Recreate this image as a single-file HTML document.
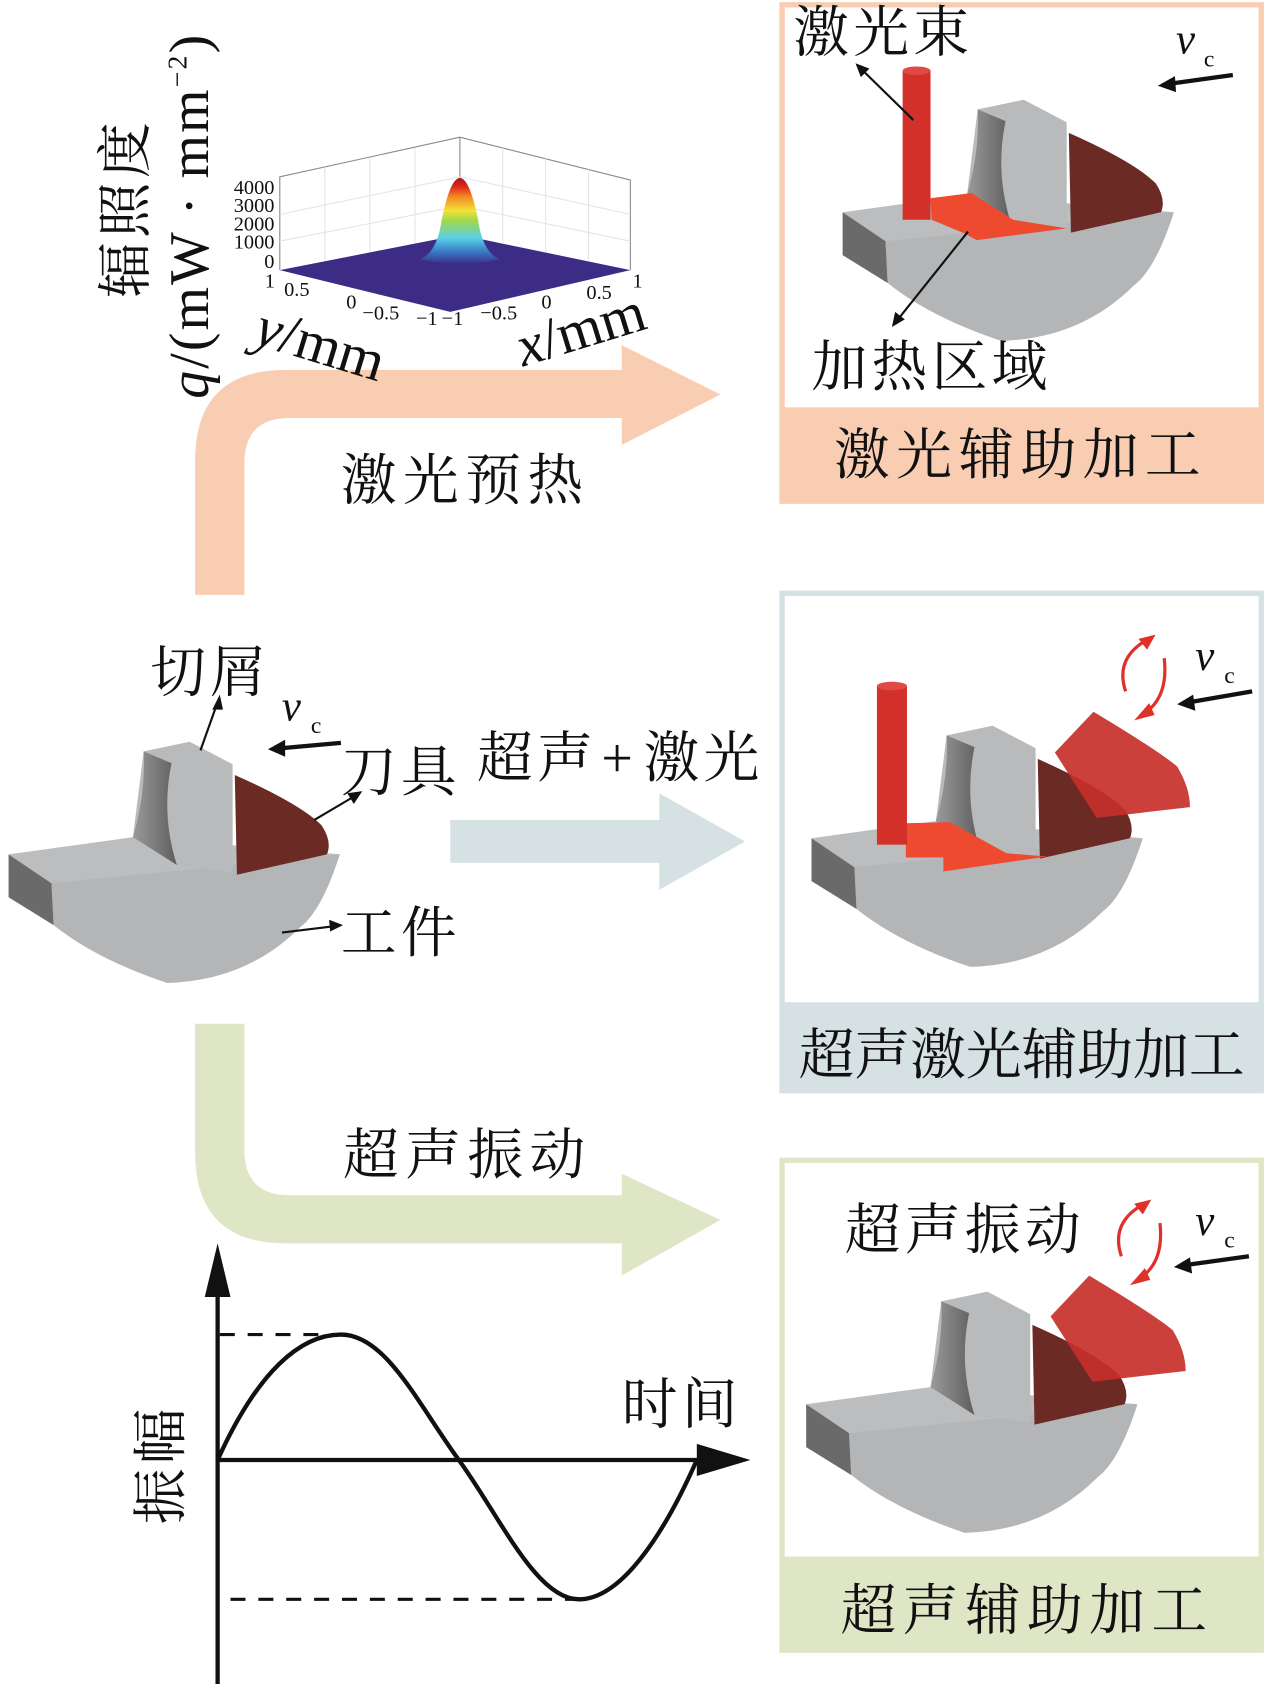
<!DOCTYPE html>
<html><head><meta charset="utf-8"><style>
html,body{margin:0;padding:0;background:#fff;}
svg{display:block;}
text{font-family:"Liberation Serif","Noto Serif CJK SC",serif;fill:#111;}
.cn{font-size:52px;letter-spacing:4px;}
</style></head><body>
<svg width="1265" height="1684" viewBox="0 0 1180 1571" preserveAspectRatio="none" xmlns="http://www.w3.org/2000/svg">
<defs>
<linearGradient id="gs" x1="0" y1="1" x2="0" y2="0">
<stop offset="0" stop-color="#3b2f8a"/><stop offset="0.15" stop-color="#3a7fc8"/><stop offset="0.3" stop-color="#5ad0e6"/><stop offset="0.5" stop-color="#9fd84a"/><stop offset="0.62" stop-color="#f4e03a"/><stop offset="0.78" stop-color="#f28a22"/><stop offset="0.9" stop-color="#e0261c"/><stop offset="1" stop-color="#a8141a"/>
</linearGradient>
<linearGradient id="chipd" x1="0" y1="0" x2="1" y2="0"><stop offset="0" stop-color="#9a9a9a"/><stop offset="1" stop-color="#5e5e5e"/></linearGradient>
<g id="wp">
<path d="M48,824 L124,781 L317,797 Q300,850 280,865 Q230,915 156,917 Q90,895 50,863 Z" fill="#b4b5b7"/>
<path d="M8,797 L124,781 L317,797 L48,824 Z" fill="#bcbdbf"/>
<path d="M8,797 L48,824 L50,863 L8,837 Z" fill="#6a6a6a"/>
<path d="M134,701 L177,692 L217,713 L217,814 L165,807 L124,781 Z" fill="#b9babc"/>
<path d="M134,701 L160,712 Q150,760 165,807 L124,781 Q136,740 134,701 Z" fill="url(#chipd)"/>
<path d="M219,723 Q280,750 300,770 Q310,785 305,797 L221,816 Z" fill="#6b2a24"/>
</g>
</defs>

<!-- arrows -->
<path d="M182,555 L182,430 Q182,345 267,345 L580,345 L580,322 L672,368 L580,415 L580,390 L270,390 Q228,390 228,432 L228,555 Z" fill="#f9cdb2"/>
<path d="M420,765 L615,765 L615,740 L695,785 L615,830 L615,805 L420,805 Z" fill="#d6e1e4"/>
<path d="M182,955 L182,1075 Q182,1160 267,1160 L580,1160 L580,1190 L672,1138 L580,1095 L580,1115 L270,1115 Q228,1115 228,1073 L228,955 Z" fill="#dfe6c6"/>

<!-- boxes -->
<rect x="729.5" y="4.5" width="447" height="463" fill="#fff" stroke="#f9cdb2" stroke-width="5"/>
<rect x="729" y="380" width="448" height="88" fill="#f9cdb2"/>
<rect x="729.5" y="553.5" width="447" height="464" fill="#fff" stroke="#d6e1e4" stroke-width="5"/>
<rect x="729" y="935" width="448" height="83" fill="#d6e1e4"/>
<rect x="729.5" y="1082.5" width="447" height="457" fill="#fff" stroke="#dfe6c6" stroke-width="5"/>
<rect x="729" y="1452" width="448" height="88" fill="#dfe6c6"/>

<!-- left workpiece -->
<use href="#wp"/>
<text x="140" y="645" class="cn">切屑</text>
<text x="263" y="672" font-size="40" font-style="italic">v</text><text x="290" y="684" font-size="22">c</text>
<line x1="318" y1="693" x2="262" y2="698" stroke="#111" stroke-width="4"/><polygon points="250,699 266,690 266,706" fill="#111"/>
<text x="318" y="738" class="cn">刀具</text>
<text x="318" y="888" class="cn">工件</text>
<line x1="187" y1="700" x2="203" y2="655" stroke="#111" stroke-width="2"/><polygon points="205,648 198,662 208,662" fill="#111"/>
<line x1="293" y1="765" x2="332" y2="742" stroke="#111" stroke-width="2"/><polygon points="338,738 324,740 330,750" fill="#111"/>
<line x1="263" y1="870" x2="312" y2="864" stroke="#111" stroke-width="2"/><polygon points="320,863 307,858 308,869" fill="#111"/>
<text x="445" y="725" class="cn">超声<tspan dx="4">+</tspan><tspan dx="6">激光</tspan></text>

<!-- top box -->
<use href="#wp" transform="translate(778,-599)"/>
<polygon points="868,185 906,180 945,205 995,213 911,224 900,218 869,205" fill="#ee4a30"/>
<rect x="842" y="66" width="26" height="139" fill="#d4302a"/><ellipse cx="855" cy="66" rx="13" ry="4" fill="#e04a44"/>
<text x="740" y="48" class="cn">激光束</text>
<line x1="852" y1="112" x2="803" y2="64" stroke="#111" stroke-width="2"/><polygon points="798,59 803,72 811,64" fill="#111"/>
<line x1="903" y1="216" x2="836" y2="300" stroke="#111" stroke-width="2"/><polygon points="832,305 835,291 844,298" fill="#111"/>
<text x="757" y="360" class="cn">加热区域</text>
<text x="1097" y="50" font-size="40" font-style="italic">v</text><text x="1123" y="62" font-size="22">c</text>
<line x1="1150" y1="70" x2="1092" y2="78" stroke="#111" stroke-width="4"/><polygon points="1080,80 1096,71 1097,86" fill="#111"/>
<text x="952" y="442" class="cn" text-anchor="middle" style="letter-spacing:6px">激光辅助加工</text>

<!-- middle box -->
<use href="#wp" transform="translate(749,-15)"/>
<polygon points="845,768 886,767 939,796 977,799 880,813 880,800 845,800" fill="#ee4a30"/>
<rect x="818" y="640" width="28" height="148" fill="#d4302a"/><ellipse cx="832" cy="640" rx="14" ry="4" fill="#e04a44"/>
<path d="M984,702 L1020,664 Q1080,700 1098,715 Q1110,735 1110,753 L1023,763 Z" fill="#c7302a" fill-opacity="0.92"/>
<path d="M1050,645 Q1040,615 1068,598" fill="none" stroke="#e0302a" stroke-width="3"/><polygon points="1078,592 1062,596 1070,606" fill="#e0302a"/>
<path d="M1086,614 Q1090,650 1068,665" fill="none" stroke="#e0302a" stroke-width="3"/><polygon points="1058,672 1072,656 1077,667" fill="#e0302a"/>
<text x="1115" y="625" font-size="40" font-style="italic">v</text><text x="1142" y="637" font-size="22">c</text>
<line x1="1168" y1="645" x2="1110" y2="655" stroke="#111" stroke-width="4"/><polygon points="1098,657 1113,648 1115,663" fill="#111"/>
<text x="953" y="1002" class="cn" text-anchor="middle" style="letter-spacing:0px">超声激光辅助加工</text>

<!-- bottom box -->
<use href="#wp" transform="translate(744,513)"/>
<path d="M980,1228 L1016,1190 Q1076,1226 1094,1241 Q1106,1261 1106,1279 L1019,1289 Z" fill="#c7302a" fill-opacity="0.92"/>
<path d="M1046,1172 Q1036,1142 1064,1125" fill="none" stroke="#e0302a" stroke-width="3"/><polygon points="1074,1119 1058,1123 1066,1133" fill="#e0302a"/>
<path d="M1082,1141 Q1086,1177 1064,1192" fill="none" stroke="#e0302a" stroke-width="3"/><polygon points="1054,1199 1068,1183 1073,1194" fill="#e0302a"/>
<text x="788" y="1165" class="cn">超声振动</text>
<text x="1115" y="1152" font-size="40" font-style="italic">v</text><text x="1142" y="1164" font-size="22">c</text>
<line x1="1165" y1="1172" x2="1107" y2="1180" stroke="#111" stroke-width="4"/><polygon points="1095,1182 1110,1173 1112,1188" fill="#111"/>
<text x="958" y="1520" class="cn" text-anchor="middle" style="letter-spacing:6px">超声辅助加工</text>

<!-- arrow labels -->
<text x="318" y="466" class="cn" style="letter-spacing:6px">激光预热</text>
<text x="320" y="1095" class="cn" style="letter-spacing:6px">超声振动</text>

<!-- 3D plot -->
<g stroke="#888" stroke-width="1" fill="none">
<polyline points="261,252 261,165 429,128 588,168 588,252"/>
<line x1="429" y1="128" x2="429" y2="219"/>
<g stroke="#e4e4e4"><line x1="261" y1="200" x2="429" y2="165"/><line x1="261" y1="225" x2="429" y2="192"/><line x1="429" y1="165" x2="588" y2="200"/><line x1="429" y1="192" x2="588" y2="225"/><line x1="303" y1="156" x2="303" y2="243"/><line x1="345" y1="147" x2="345" y2="235"/><line x1="387" y1="138" x2="387" y2="227"/><line x1="469" y1="138" x2="469" y2="227"/><line x1="509" y1="148" x2="509" y2="235"/><line x1="549" y1="158" x2="549" y2="243"/></g>
</g>
<polygon points="261,252 429,219 588,252 420,291" fill="#3d2c86"/>
<path d="M392,242 Q408,235 412,205 Q420,166 429,166 Q438,166 446,205 Q450,235 466,242 Q430,250 392,242 Z" fill="url(#gs)"/>
<g font-size="19">
<text x="256" y="181" text-anchor="end">4000</text><text x="256" y="198" text-anchor="end">3000</text><text x="256" y="215" text-anchor="end">2000</text><text x="256" y="232" text-anchor="end">1000</text><text x="256" y="250" text-anchor="end">0</text>
<text x="247" y="268">1</text><text x="265" y="276">0.5</text><text x="323" y="288">0</text><text x="338" y="298">−0.5</text><text x="388" y="303">−1</text><text x="412" y="303">−1</text><text x="448" y="298">−0.5</text><text x="505" y="288">0</text><text x="547" y="279">0.5</text><text x="590" y="268">1</text>
</g>
<text x="235" y="320" font-size="54" font-style="italic" transform="rotate(17 235 320)">y<tspan font-style="normal">/mm</tspan></text>
<text x="488" y="342" font-size="54" font-style="italic" transform="rotate(-17 488 342)">x<tspan font-style="normal">/mm</tspan></text>
<text transform="translate(194,372) rotate(-90)" font-size="52" letter-spacing="2"><tspan font-style="italic">q</tspan>/(mW · mm<tspan font-size="26" dy="-20">−2</tspan><tspan dy="20">)</tspan></text>
<text transform="translate(135,278) rotate(-90)" class="cn">辐照度</text>

<!-- sine graph -->
<line x1="203" y1="1571" x2="203" y2="1200" stroke="#111" stroke-width="4"/>
<polygon points="203,1160 191,1210 215,1210" fill="#111"/>
<line x1="203" y1="1362" x2="660" y2="1362" stroke="#111" stroke-width="4"/>
<polygon points="700,1362 650,1347 650,1377" fill="#111"/>
<path d="M203,1362 C240,1280 280,1245 318,1245 C360,1245 390,1310 428,1362 C466,1414 500,1492 540,1492 C580,1492 620,1430 650,1362" fill="none" stroke="#111" stroke-width="4"/>
<line x1="205" y1="1245" x2="315" y2="1245" stroke="#111" stroke-width="3" stroke-dasharray="14,12"/>
<line x1="215" y1="1492" x2="540" y2="1492" stroke="#111" stroke-width="3" stroke-dasharray="14,12"/>
<text x="580" y="1328" class="cn">时间</text>
<text transform="translate(168,1422) rotate(-90)" class="cn">振幅</text>
</svg>
</body></html>
